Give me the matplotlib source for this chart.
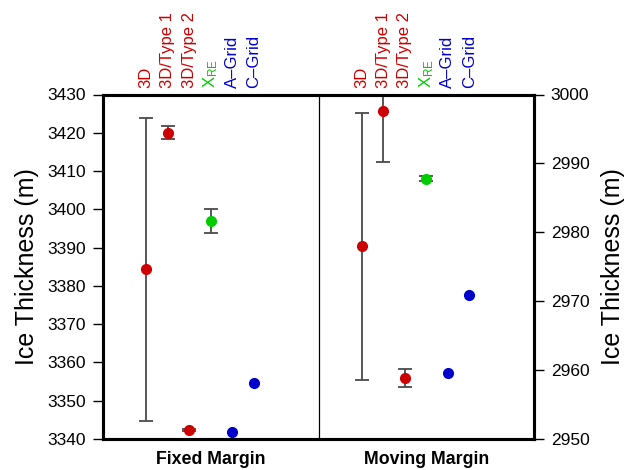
import numpy as np
import matplotlib
matplotlib.use("Agg")
import matplotlib.pyplot as plt

plt.rcParams['font.family'] = ['Liberation Sans', 'DejaVu Sans']
plt.rcParams['mathtext.fontset'] = 'custom'
plt.rcParams['mathtext.rm'] = 'Liberation Sans'
plt.rcParams['mathtext.it'] = 'Liberation Sans'

# ---- data ----
categories = ['3D', '3D/Type 1', '3D/Type 2', r'X$_{\mathrm{RE}}$', 'A\u2013Grid', 'C\u2013Grid']
cat_colors = ['#cc0000', '#cc0000', '#cc0000', '#00cc00', '#0000cc', '#0000cc']
groups = ['Fixed Margin', 'Moving Margin']

fixed_vals = [3384.3, 3419.9, 3342.4, 3397.0, 3341.7, 3354.5]
fixed_lo = [3344.7, 3418.3, 3342.1, 3393.9, np.nan, np.nan]
fixed_hi = [3423.9, 3421.8, 3342.7, 3400.2, np.nan, np.nan]

moving_vals = [2978.0, 2997.6, 2958.9, 2987.8, 2959.6, 2970.9]
moving_lo = [2958.6, 2990.2, 2957.5, 2987.5, np.nan, np.nan]
moving_hi = [2997.3, 3005.0, 2960.2, 2988.1, np.nan, np.nan]

left_ticks = [3340, 3350, 3360, 3370, 3380, 3390, 3400, 3410, 3420, 3430]
right_ticks = [2950, 2960, 2970, 2980, 2990, 3000]

fixed_x = np.arange(len(categories))
moving_x = fixed_x + 10
group_x = [3, 13]
divider_x = 8

fig = plt.figure(figsize=(6.41, 4.70), dpi=100)
ax = fig.add_axes([103/641, 31/470, 431/641, 344.5/470])
ax2 = ax.twinx()


def draw(a, xs, vals, lo, hi):
    for x, v, l, h, c in zip(xs, vals, lo, hi, cat_colors):
        if not np.isnan(l):
            a.errorbar([x], [v], yerr=[[v - l], [h - v]], fmt='none',
                       ecolor='#4a4a4a', elinewidth=1.3, capsize=5, capthick=1.3, zorder=2)
        a.plot([x], [v], 'o', color=c, markersize=7, zorder=3)


draw(ax, fixed_x, fixed_vals, fixed_lo, fixed_hi)
draw(ax2, moving_x, moving_vals, moving_lo, moving_hi)

ax.set_xlim(-2, 18)
ax.set_ylim(left_ticks[0], left_ticks[-1])
ax2.set_ylim(right_ticks[0], right_ticks[-1])
ax.axvline(divider_x, color='black', lw=0.9)

ax.set_yticks(left_ticks)
ax2.set_yticks(right_ticks)
ax.set_xticks(group_x)
ax.set_xticklabels(groups, fontweight='bold', fontsize=12.8)
ax.tick_params(axis='x', length=0, pad=9)
ax.tick_params(axis='y', direction='out', length=7, width=1, labelsize=12.5, pad=5)
ax2.tick_params(axis='y', direction='out', length=7, width=1, labelsize=12.5, pad=5)

for a in (ax, ax2):
    for s in a.spines.values():
        s.set_linewidth(2.2)

ax.set_ylabel('Ice Thickness (m)', fontsize=18, labelpad=6)
ax2.set_ylabel('Ice Thickness (m)', fontsize=18, labelpad=8)

for xs in (fixed_x, moving_x):
    for x, lab, c in zip(xs, categories, cat_colors):
        ax.annotate(lab, xy=(x, 1.0), xycoords=('data', 'axes fraction'),
                    xytext=(0, 5), textcoords='offset points',
                    rotation=90, ha='center', va='bottom', color=c, fontsize=12)

fig.savefig('out.png', dpi=100)
